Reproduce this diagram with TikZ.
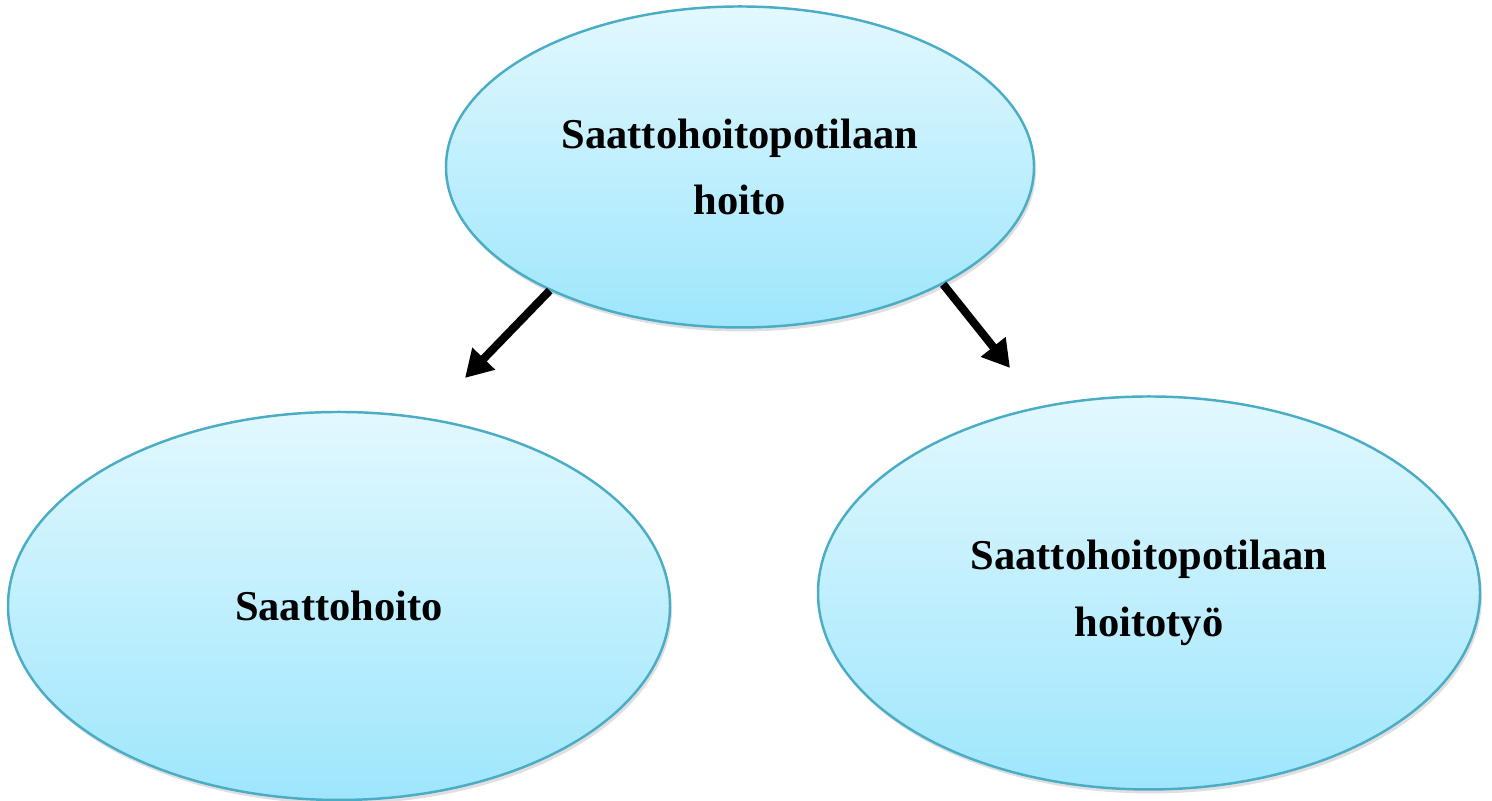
\documentclass[tikz,border=0pt]{standalone}
\usepackage{fontspec}
\setmainfont{Liberation Serif}
\usepackage{tikz}
\usetikzlibrary{arrows.meta, shapes.geometric, shadows}
\definecolor{kuplaReuna}{RGB}{75,172,198}
\definecolor{kuplaYla}{RGB}{226,248,254}
\definecolor{kuplaAla}{RGB}{158,230,252}
\tikzset{kupla/.style={ellipse, draw=kuplaReuna, line width=0.7pt, top color=kuplaYla, bottom color=kuplaAla, inner sep=0pt, align=center, font=\fontsize{12.1}{19}\selectfont\bfseries, drop shadow={opacity=0.25, shadow xshift=0.02cm, shadow yshift=-0.04cm}}}

\begin{document}
\begin{tikzpicture}[>={Triangle[length=0.27cm, width=0.3cm]}, line width=2.3pt]
\useasboundingbox (0,0) rectangle (14.92,8.01);
\node[kupla, minimum width=5.88cm, minimum height=3.21cm] (hoito) at (7.40,6.34) {Saattohoitopotilaan\\hoito};
\node[kupla, minimum width=6.62cm, minimum height=3.88cm] (saatto) at (3.39,1.95) {Saattohoito};
\node[kupla, minimum width=6.62cm, minimum height=3.93cm] (hoitotyo) at (11.49,2.08) {Saattohoitopotilaan\\hoitotyö};
\coordinate (vasen) at (4.65,4.23);
\coordinate (oikea) at (10.10,4.33);
\draw [->, black] (hoito.-147) -- (vasen);
\draw [->, black] (hoito.-30.5) -- (oikea);
\end{tikzpicture}
\end{document}
